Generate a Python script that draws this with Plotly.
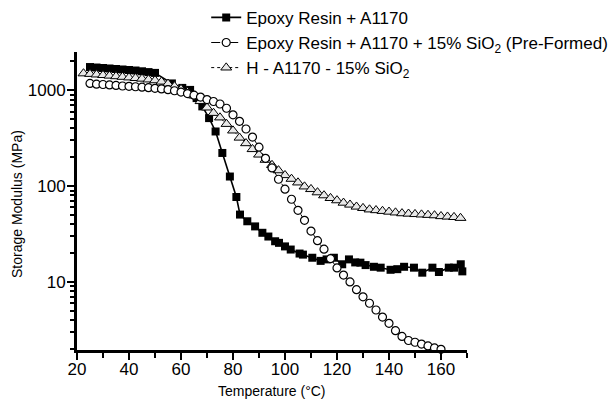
import plotly.graph_objects as go

# ---- data ----
names = [
    "Epoxy Resin + A1170",
    "Epoxy Resin + A1170 + 15% SiO<sub>2</sub> (Pre-Formed)",
    "H - A1170 - 15% SiO<sub>2</sub>",
]

t_epoxy = [25, 27.5, 30, 32.5, 35, 37.5, 40, 42.5, 45, 47.5, 50, 56.5, 60.5, 63.5, 66,
           68.2, 70.8, 73.3, 75.9, 78.8, 81.3, 82.7, 85.5, 88.5, 91.3, 93.6, 96.2, 97.7,
           100, 102.2, 105.6, 106.9, 110.5, 113.7, 116, 118.8, 122, 124.6, 127, 129, 131,
           134.2, 136.8, 140.6, 143.2, 145.8, 149.6, 152.8, 156.7, 159.2, 163, 165, 167.6, 168.2]
e_epoxy = [1750, 1730, 1710, 1690, 1670, 1650, 1630, 1610, 1580, 1550, 1520, 1180, 1060, 1010, 830,
           680, 513, 372, 222, 126, 77, 50.5, 43, 38, 32.6, 29.8, 26.6, 25.6,
           23.5, 21.8, 19.8, 19.3, 17.9, 16.6, 17.2, 17.9, 15.3, 17.2, 16.0, 15.9, 15.0,
           14.4, 14.1, 13.4, 13.6, 14.4, 14.1, 12.5, 14.1, 12.7, 14.1, 14.1, 15.3, 12.9]

t_pre = [25, 27.5, 30, 32.5, 35, 37.5, 40, 42.5, 45, 47.5, 50, 52.5, 55, 57.5, 60, 62.5, 65,
         67.5, 70, 72.5, 75, 77.5, 80, 82.5, 85, 87.5, 90, 92.5, 95, 97.5, 100, 102.5, 105,
         107.5, 110, 112.5, 115, 117.5, 120, 122.5, 125, 127.5, 130, 132.5, 135, 137.5, 140,
         142.5, 145, 147.5, 150, 152.5, 155, 157.5, 160]
e_pre = [1180, 1160, 1150, 1140, 1125, 1110, 1100, 1090, 1080, 1065, 1050, 1035, 1015, 990, 960,
         925, 890, 850, 800, 765, 720, 650, 555, 475, 395, 325, 255, 195, 155, 118, 93, 73, 56,
         44, 34, 27, 22, 17.5, 14, 11.8, 10, 8.3, 7.0, 6.0, 5.1, 4.3, 3.7, 3.1, 2.7, 2.45, 2.35,
         2.25, 2.15, 2.05, 1.98]

t_h = [22.5, 25, 27.5, 30, 32.5, 35, 37.5, 40, 42.5, 45, 47.5, 50, 52.5, 55, 57.5, 60, 62.5,
       65, 67.5, 70, 72.5, 75, 77.5, 80, 82.5, 85, 87.5, 90, 92.5, 95, 97.5, 100, 102.5, 105,
       107.5, 110, 112.5, 115, 117.5, 120, 122.5, 125, 127.5, 130, 132.5, 135, 137.5, 140,
       142.5, 145, 147.5, 150, 152.5, 155, 157.5, 160, 162.5, 165, 167.5]
e_h = [1500, 1480, 1460, 1440, 1420, 1400, 1380, 1360, 1340, 1320, 1295, 1270, 1230, 1170, 1100,
       1030, 960, 880, 770, 660, 580, 520, 445, 380, 320, 280, 243, 213, 188, 166, 146, 130,
       119, 109, 99, 93, 86, 80, 75, 71, 67, 64, 61, 59, 57, 56, 55, 54, 53, 52, 51.5, 51,
       50.5, 50, 49.5, 48.5, 48, 47.5, 46.5]

x_ticks = [20, 40, 60, 80, 100, 120, 140, 160]
x_minor = [30, 50, 70, 90, 110, 130, 150, 170]
y_ticks = [10, 100, 1000]
y_ticktext = ["10", "100", "1000"]
y_minor = [2, 3, 4, 5, 6, 7, 8, 9, 20, 30, 40, 50, 60, 70, 80, 90,
           200, 300, 400, 500, 600, 700, 800, 900, 2000]

x_title = "Temperature (°C)"
y_title = "Storage Modulus (MPa)"

FONT = "Arial, 'Liberation Sans', sans-serif"

fig = go.Figure()
fig.add_trace(go.Scatter(
    x=t_epoxy, y=e_epoxy, name=names[0], mode="lines+markers",
    line=dict(color="black", width=1.6),
    marker=dict(symbol="square", size=8, color="black"),
    cliponaxis=False, legendrank=1,
))
fig.add_trace(go.Scatter(
    x=t_h, y=e_h, name=names[2], mode="lines+markers",
    line=dict(color="black", width=1, dash="dot"),
    marker=dict(symbol="triangle-up", size=9.5, color="#e8e8e8",
                line=dict(color="black", width=1)),
    cliponaxis=False, legendrank=3,
))
fig.add_trace(go.Scatter(
    x=t_pre, y=e_pre, name=names[1], mode="lines+markers",
    line=dict(color="black", width=1, dash="dash"),
    marker=dict(symbol="circle", size=8, color="white",
                line=dict(color="black", width=1.2)),
    cliponaxis=False, legendrank=2,
))

fig.update_layout(
    width=608, height=396,
    margin=dict(l=69, r=149, t=44, b=54, autoexpand=False),
    paper_bgcolor="white", plot_bgcolor="white",
    font=dict(family=FONT, color="black", size=17),
    legend=dict(xref="container", yref="paper", x=0.326, y=1.175,
                xanchor="left", yanchor="top",
                font=dict(size=17), bgcolor="rgba(0,0,0,0)",
                tracegroupgap=0, itemwidth=30),
    showlegend=True,
    annotations=[
        dict(text=x_title, xref="paper", yref="paper", x=0.5, y=-0.137,
             xanchor="center", yanchor="middle", showarrow=False,
             font=dict(size=14, family=FONT, color="black")),
        dict(text=y_title, xref="paper", yref="paper", x=-0.1538, y=0.49,
             xanchor="center", yanchor="middle", showarrow=False, textangle=-90,
             font=dict(size=14, family=FONT, color="black")),
    ],
)
fig.update_xaxes(
    range=[20, 170], showline=True, linewidth=3, linecolor="black",
    showgrid=False, zeroline=False, automargin=False,
    tickvals=x_ticks, ticks="outside", ticklen=7, tickwidth=2, tickcolor="black",
    tickfont=dict(size=17), ticklabelstandoff=-5,
    minor=dict(tickvals=x_minor, ticks="outside", ticklen=5, tickwidth=2, tickcolor="black"),
)
fig.update_yaxes(
    type="log", range=[0.29, 3.4], showline=True, linewidth=3, linecolor="black",
    showgrid=False, zeroline=False, automargin=False,
    tickvals=y_ticks, ticktext=y_ticktext, ticks="outside", ticklen=7, tickwidth=2,
    tickcolor="black", tickfont=dict(size=17), ticklabelstandoff=-2,
    minor=dict(tickvals=y_minor, ticks="outside", ticklen=4, tickwidth=2, tickcolor="black"),
)

fig.write_html("out.html")
